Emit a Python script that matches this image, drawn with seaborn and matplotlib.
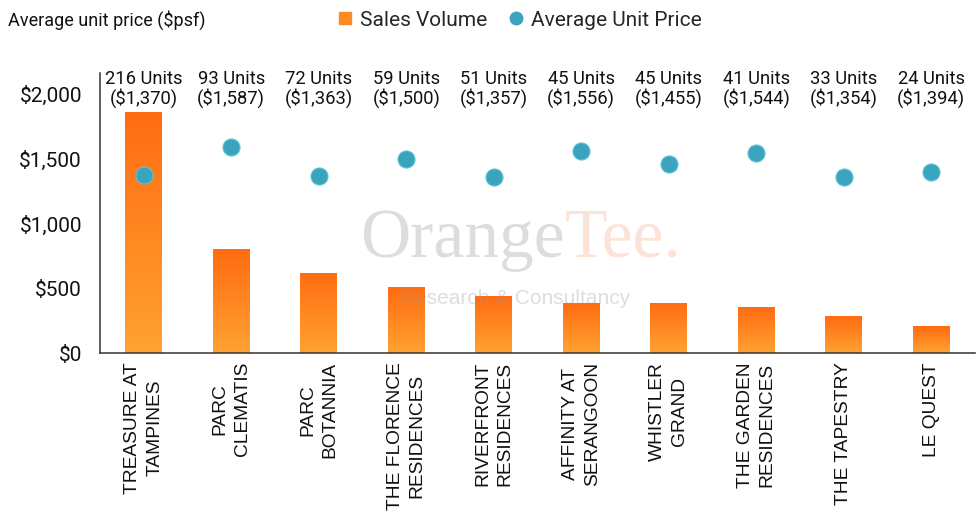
import numpy as np
import pandas as pd
import matplotlib
matplotlib.use("Agg")
import matplotlib.pyplot as plt
from matplotlib.colors import LinearSegmentedColormap
from matplotlib.lines import Line2D
from matplotlib.transforms import ScaledTranslation
import seaborn as sns

projects = ["TREASURE AT\nTAMPINES", "PARC\nCLEMATIS", "PARC\nBOTANNIA", "THE FLORENCE\nRESIDENCES",
            "RIVERFRONT\nRESIDENCES", "AFFINITY AT\nSERANGOON", "WHISTLER\nGRAND", "THE GARDEN\nRESIDENCES",
            "THE TAPESTRY", "LE QUEST"]
units = [216, 93, 72, 59, 51, 45, 45, 41, 33, 24]
prices = [1370, 1587, 1363, 1500, 1357, 1556, 1455, 1544, 1354, 1394]
price_ticks = [0, 500, 1000, 1500, 2000]

df = pd.DataFrame({"project": projects, "units": units, "price": prices})

sns.set_style("white")
plt.rcParams['font.family'] = ['Roboto', 'DejaVu Sans']

fig = plt.figure(figsize=(9.77, 5.11), dpi=100)
ax = fig.add_axes([100/977, 1 - 353/511, 875/977, 280/511])
ax2 = ax.twinx()

# bars on hidden secondary axis
sns.barplot(data=df, x="project", y="units", ax=ax2, color="#FF7F1E", width=0.42, saturation=1)
ax2.set_ylim(0, 251)
ax2.set_yticks([])
ax2.set_ylabel("")
for s in ax2.spines.values():
    s.set_visible(False)

grad = LinearSegmentedColormap.from_list("og", ["#FFA232", "#FF6C12"])
for bar in ax2.patches:
    x0, w, h = bar.get_x(), bar.get_width(), bar.get_height()
    im = ax2.imshow(np.linspace(0, 1, 100).reshape(-1, 1), cmap=grad, origin="lower",
                    extent=[x0, x0 + w, 0, h], aspect="auto", zorder=2)
    im.set_clip_path(bar)
    bar.set_alpha(0)
ax2.set_xlim(-0.5, 9.5)

# price dots
sns.scatterplot(data=df, x="project", y="price", ax=ax, s=150, color="#3AA3BD",
                edgecolor="#5CC3D6", linewidth=0.8, zorder=5)
ax.set_zorder(ax2.get_zorder() + 1)
ax.patch.set_visible(False)
ax.set_ylim(0, 2160)
ax.set_xlim(-0.5, 9.5)
ax.set_yticks(price_ticks)
ax.set_yticklabels([f"${v:,}" for v in price_ticks], fontsize=15, color="#111111")
ax.tick_params(axis="y", length=0, pad=13)
ax.set_xticks(range(len(projects)))
ax.set_xticklabels([])
ax.tick_params(axis="x", length=0)

# category labels: each line drawn separately so the lines are centred on each other
lab_kw = dict(fontsize=13.8, family="Liberation Sans", color="#111111", rotation=90)
renderer = fig.canvas.get_renderer()
step_px, top_px = 22, 9
for i, name in enumerate(projects):
    lines = name.split("\n")
    lens = []
    for ln in lines:
        t = fig.text(0, 0, ln, **lab_kw)
        lens.append(t.get_window_extent(renderer).height)
        t.remove()
    half = max(lens) / 2
    for k, ln in enumerate(lines):
        dx = (k - (len(lines) - 1) / 2) * step_px
        tr = ax.get_xaxis_transform() + ScaledTranslation(dx / 100, -(top_px + half) / 100,
                                                          fig.dpi_scale_trans)
        ax.text(i, 0, ln, transform=tr, rotation_mode="anchor", ha="center", va="center",
                clip_on=False, **lab_kw)

ax.set_xlabel("")
ax.set_ylabel("")
for side in ["top", "right"]:
    ax.spines[side].set_visible(False)
ax.spines["left"].set_color("#333333")
ax.spines["bottom"].set_color("#333333")
ax.spines["left"].set_linewidth(1.1)
ax.spines["bottom"].set_linewidth(1.1)

for i, (u, p) in enumerate(zip(units, prices)):
    ax.text(i, 2035, f"{u} Units\n(${p:,})", ha="center", va="center",
            fontsize=13.2, linespacing=1.05, color="#111111", zorder=6)

# watermark
fig.text(565/977, 1 - 240/511, "Orange", fontsize=50, family="Liberation Serif", color="#9a9a9a",
         alpha=0.33, ha="right", va="center")
fig.text(565/977, 1 - 240/511, "Tee.", fontsize=50, family="Liberation Serif", color="#F4A070",
         alpha=0.28, ha="left", va="center")
fig.text(515/977, 1 - 298/511, "Research & Consultancy", fontsize=15, family="Liberation Sans",
         color="#9a9a9a", alpha=0.33, ha="center", va="center")

fig.text(8/977, 1 - 20/511, "Average unit price ($psf)", fontsize=13, ha="left", va="center",
         color="#111111")
handles = [Line2D([], [], marker="s", linestyle="", color="#FF8A24", markersize=9),
           Line2D([], [], marker="o", linestyle="", color="#3AA3BD", markersize=9)]
fig.legend(handles, ["Sales Volume", "Average Unit Price"], loc="center", ncol=2,
           bbox_to_anchor=(518/977, 1 - 20/511), frameon=False, fontsize=15,
           handletextpad=0.2, columnspacing=0.9, handlelength=1.0)

fig.savefig("out.png", dpi=100)
